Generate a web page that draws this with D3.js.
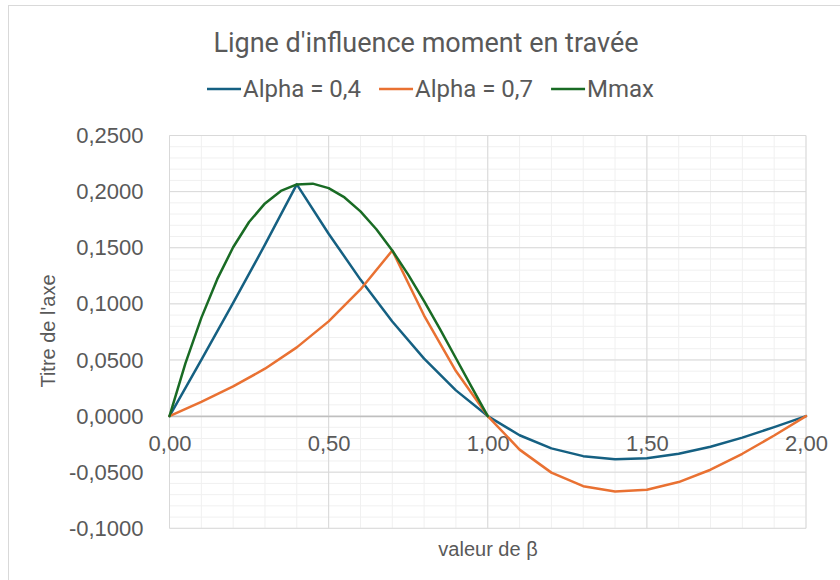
<!DOCTYPE html>
<html>
<head>
<meta charset="utf-8">
<script src="https://cdn.jsdelivr.net/npm/d3@7"></script>
<style>
  body { margin: 0; background: #fff; }
  svg { display: block; }
</style>
</head>
<body>
<div id="chart"></div>
<script>
// beta positions (x axis)
const betaX = [0, 0.1, 0.2, 0.3, 0.4, 0.5, 0.6, 0.7, 0.8, 0.9, 1.0,
               1.1, 1.2, 1.3, 1.4, 1.5, 1.6, 1.7, 1.8, 1.9, 2.0];
const alpha04 = [0, 0.0501, 0.1008, 0.1527, 0.2064, 0.1625, 0.1216, 0.0843, 0.0512, 0.0229, 0,
                 -0.0171, -0.0288, -0.0357, -0.0384, -0.0375, -0.0336, -0.0273, -0.0192, -0.0099, 0];
const alpha07 = [0, 0.0127, 0.0264, 0.0422, 0.0612, 0.0844, 0.1128, 0.1475, 0.0896, 0.0401, 0,
                 -0.0299, -0.0504, -0.0625, -0.0672, -0.0656, -0.0588, -0.0478, -0.0336, -0.0173, 0];
const mmaxX = [0, 0.05, 0.1, 0.15, 0.2, 0.25, 0.3, 0.35, 0.4, 0.45, 0.5,
               0.55, 0.6, 0.65, 0.7, 0.75, 0.8, 0.85, 0.9, 0.95, 1.0];
const mmax = [0, 0.0469, 0.0875, 0.1220, 0.1504, 0.1729, 0.1895, 0.2006, 0.2064, 0.2071, 0.2031,
              0.1948, 0.1824, 0.1665, 0.1475, 0.1260, 0.1024, 0.0774, 0.0515, 0.0255, 0];

const seriesNames = ['Alpha = 0,4', 'Alpha = 0,7', 'Mmax'];
const seriesColors = ['#156082', '#E97132', '#196B24'];
const xTicks = [0, 0.5, 1, 1.5, 2];
const yTicks = [-0.1, -0.05, 0, 0.05, 0.1, 0.15, 0.2, 0.25];

const width = 840, height = 580;
const frFormat = d3.formatLocale({decimal: ',', thousands: ' ', grouping: [3], currency: ['', ' €'], minus: '-'});
const labelFont = 'Liberation Sans, Arial, sans-serif';
const titleFont = 'Roboto, sans-serif';

const svg = d3.select('#chart').append('svg').attr('width', width).attr('height', height);

// chart frame
svg.append('rect').attr('x', 8.5).attr('y', 5.5).attr('width', 840).attr('height', 600)
  .attr('fill', '#fff').attr('stroke', '#d9d9d9');

const x = d3.scaleLinear().domain([0, 2]).range([169.5, 806]);
const y = d3.scaleLinear().domain([-0.1, 0.25]).range([528.3, 135.5]);

// gridlines
const grid = svg.append('g');
grid.selectAll('.vminor').data(d3.range(0, 21).map(i => i / 10)).enter().append('line')
  .attr('x1', d => x(d)).attr('x2', d => x(d)).attr('y1', y(0.25)).attr('y2', y(-0.1))
  .attr('stroke', '#f0f0f0').attr('stroke-width', 1);
grid.selectAll('.hminor').data(d3.range(-10, 26).map(i => i / 100)).enter().append('line')
  .attr('x1', x(0)).attr('x2', x(2)).attr('y1', d => y(d)).attr('y2', d => y(d))
  .attr('stroke', '#f0f0f0').attr('stroke-width', 1);
grid.selectAll('.vmajor').data(xTicks).enter().append('line')
  .attr('x1', d => x(d)).attr('x2', d => x(d)).attr('y1', y(0.25)).attr('y2', y(-0.1))
  .attr('stroke', '#d9d9d9').attr('stroke-width', 1);
grid.selectAll('.hmajor').data(yTicks).enter().append('line')
  .attr('x1', x(0)).attr('x2', x(2)).attr('y1', d => y(d)).attr('y2', d => y(d))
  .attr('stroke', '#d9d9d9').attr('stroke-width', 1);

// axes
const yAxis = svg.append('g').attr('transform', `translate(${x(0)},0)`)
  .call(d3.axisLeft(y).tickValues(yTicks).tickSize(0).tickPadding(26).tickFormat(frFormat.format('.4f')));
yAxis.select('.domain').remove();
yAxis.selectAll('text').attr('font-family', labelFont).attr('font-size', 22).attr('fill', '#595959');

const xAxis = svg.append('g').attr('transform', `translate(0,${y(0)})`)
  .call(d3.axisBottom(x).tickValues(xTicks).tickSize(0).tickPadding(19).tickFormat(frFormat.format('.2f')));
xAxis.select('.domain').attr('stroke', '#bfbfbf').attr('stroke-width', 1.5);
xAxis.selectAll('text').attr('font-family', labelFont).attr('font-size', 22).attr('fill', '#595959');

// series
const line = d3.line().x(d => x(d[0])).y(d => y(d[1]));
const series = [
  betaX.map((b, i) => [b, alpha04[i]]),
  betaX.map((b, i) => [b, alpha07[i]]),
  mmaxX.map((b, i) => [b, mmax[i]])
];
svg.append('g').selectAll('path').data(series).enter().append('path')
  .attr('d', line).attr('fill', 'none')
  .attr('stroke', (d, i) => seriesColors[i]).attr('stroke-width', 2.5)
  .attr('stroke-linejoin', 'round').attr('stroke-linecap', 'round');

// title
svg.append('text').attr('x', 426).attr('y', 52).attr('text-anchor', 'middle')
  .attr('font-family', titleFont).attr('font-size', 27).attr('fill', '#595959')
  .text("Ligne d'influence moment en travée");

// axis titles
svg.append('text').attr('x', 488).attr('y', 556).attr('text-anchor', 'middle')
  .attr('font-family', labelFont).attr('font-size', 20).attr('fill', '#595959')
  .text('valeur de β');
svg.append('text').attr('transform', 'translate(55,331) rotate(-90)').attr('text-anchor', 'middle')
  .attr('font-family', labelFont).attr('font-size', 20).attr('fill', '#595959')
  .text("Titre de l'axe");

// legend
const legend = svg.append('g');
let lx = 207;
seriesNames.forEach((name, i) => {
  const item = legend.append('g').attr('transform', `translate(${lx},0)`);
  item.append('line').attr('x1', 0).attr('x2', 34).attr('y1', 89).attr('y2', 89)
    .attr('stroke', seriesColors[i]).attr('stroke-width', 2.5);
  const t = item.append('text').attr('x', 36).attr('y', 97)
    .attr('font-family', titleFont).attr('font-size', 24).attr('fill', '#595959')
    .text(name);
  lx += 36 + t.node().getComputedTextLength() + 18;
});
</script>
</body>
</html>
